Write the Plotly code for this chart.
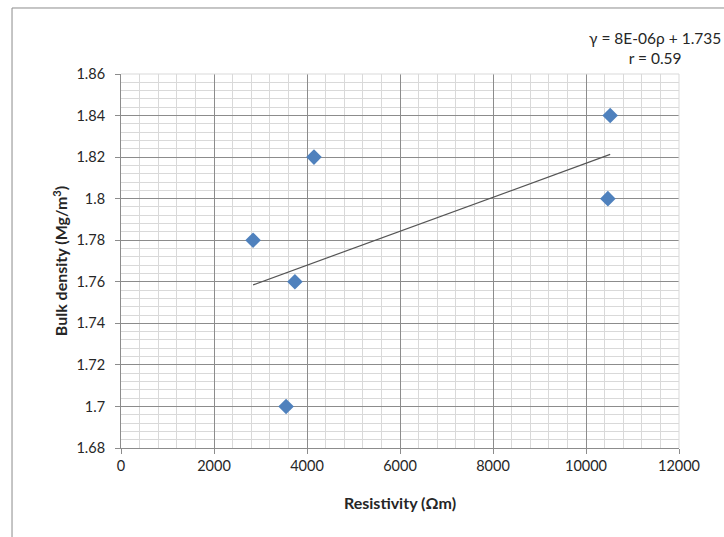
import numpy as np
import plotly.graph_objects as go

resistivity = [2840, 3740, 3550, 4150, 10520, 10470]
bulk_density = [1.78, 1.76, 1.70, 1.82, 1.84, 1.80]

x_range = [0, 12000]
y_range = [1.68, 1.86]
x_major, x_minor = 2000, 400
y_major, y_minor = 0.02, 0.004

slope, intercept = np.polyfit(resistivity, bulk_density, 1)
r = np.corrcoef(resistivity, bulk_density)[0, 1]
trend_x = [min(resistivity), max(resistivity)]
trend_y = [slope * v + intercept for v in trend_x]

font_family = "Lato, 'Open Sans', sans-serif"
text_color = "#262626"
major_grid = "#8c8c8c"
minor_grid = "#d9d9d9"

fig = go.Figure()
# invisible helper trace so the overlay (major-grid / labelled) axes are drawn
fig.add_trace(go.Scatter(
    x=resistivity, y=bulk_density, xaxis="x2", yaxis="y2", mode="markers",
    marker=dict(opacity=0), showlegend=False, hoverinfo="skip"))
fig.add_trace(go.Scatter(
    x=trend_x, y=trend_y, mode="lines",
    line=dict(color="#555555", width=1.2), showlegend=False, hoverinfo="skip"))
fig.add_trace(go.Scatter(
    x=resistivity, y=bulk_density, mode="markers",
    marker=dict(symbol="diamond", size=12, color="#4F81BD"),
    showlegend=False))

fig.update_layout(
    width=724, height=537,
    margin=dict(l=121, r=45, t=74, b=89),
    paper_bgcolor="white", plot_bgcolor="white",
    font=dict(family=font_family, size=14.5, color=text_color),
    xaxis=dict(
        range=x_range, tickmode="linear", tick0=0, dtick=x_minor,
        showgrid=True, gridcolor=minor_grid, gridwidth=1,
        showticklabels=False, ticks="", showline=False,
        zeroline=False, automargin=False,
    ),
    yaxis=dict(
        range=y_range, tickmode="linear", tick0=y_range[0], dtick=y_minor,
        showgrid=True, gridcolor=minor_grid, gridwidth=1,
        showticklabels=False, ticks="", showline=False,
        zeroline=False, automargin=False,
    ),
    xaxis2=dict(
        overlaying="x", anchor="y2", side="bottom",
        range=x_range, tickmode="linear", tick0=0, dtick=x_major, tickformat="d",
        showgrid=True, gridcolor=major_grid, gridwidth=1,
        showline=True, linecolor=major_grid, linewidth=1,
        ticks="outside", ticklen=5, tickcolor=major_grid,
        zeroline=False, automargin=False,
        title=dict(text="<b>Resistivity (Ωm)</b>", font=dict(size=16, color=text_color), standoff=24),
    ),
    yaxis2=dict(
        overlaying="y", anchor="x2", side="left",
        range=y_range, tickmode="linear", tick0=y_range[0], dtick=y_major,
        showgrid=True, gridcolor=major_grid, gridwidth=1,
        showline=True, linecolor=major_grid, linewidth=1,
        ticks="outside", ticklen=5, tickcolor=major_grid, ticklabelstandoff=7,
        zeroline=False, automargin=False,
        title=dict(text="<b>Bulk density (Mg/m<sup>3</sup>)</b>", font=dict(size=16, color=text_color), standoff=4),
    ),
)

# light border on top/right of plot area
fig.add_shape(type="line", xref="paper", yref="paper", x0=0, x1=1, y0=1, y1=1,
              line=dict(color=minor_grid, width=1))
fig.add_shape(type="line", xref="paper", yref="paper", x0=1, x1=1, y0=0, y1=1,
              line=dict(color=minor_grid, width=1))

# chart area outer border (left and top)
fig.add_shape(type="line", xref="paper", yref="paper", x0=-0.1953, x1=-0.1953, y0=-0.3, y1=1.1765,
              line=dict(color=major_grid, width=1))
fig.add_shape(type="line", xref="paper", yref="paper", x0=-0.1953, x1=1.2, y0=1.1765, y1=1.1765,
              line=dict(color=major_grid, width=1))

fig.add_annotation(
    xref="paper", yref="paper", x=0.957, y=1.0695, xanchor="center", yanchor="middle",
    text=f"γ = {slope:.0E}ρ + {intercept:.3f}<br>r = {r:.2f}",
    showarrow=False, align="center", font=dict(size=15.5, color=text_color))

fig.write_html("out.html", config={"displayModeBar": False},
               post_script="document.body.style.margin='0';")
